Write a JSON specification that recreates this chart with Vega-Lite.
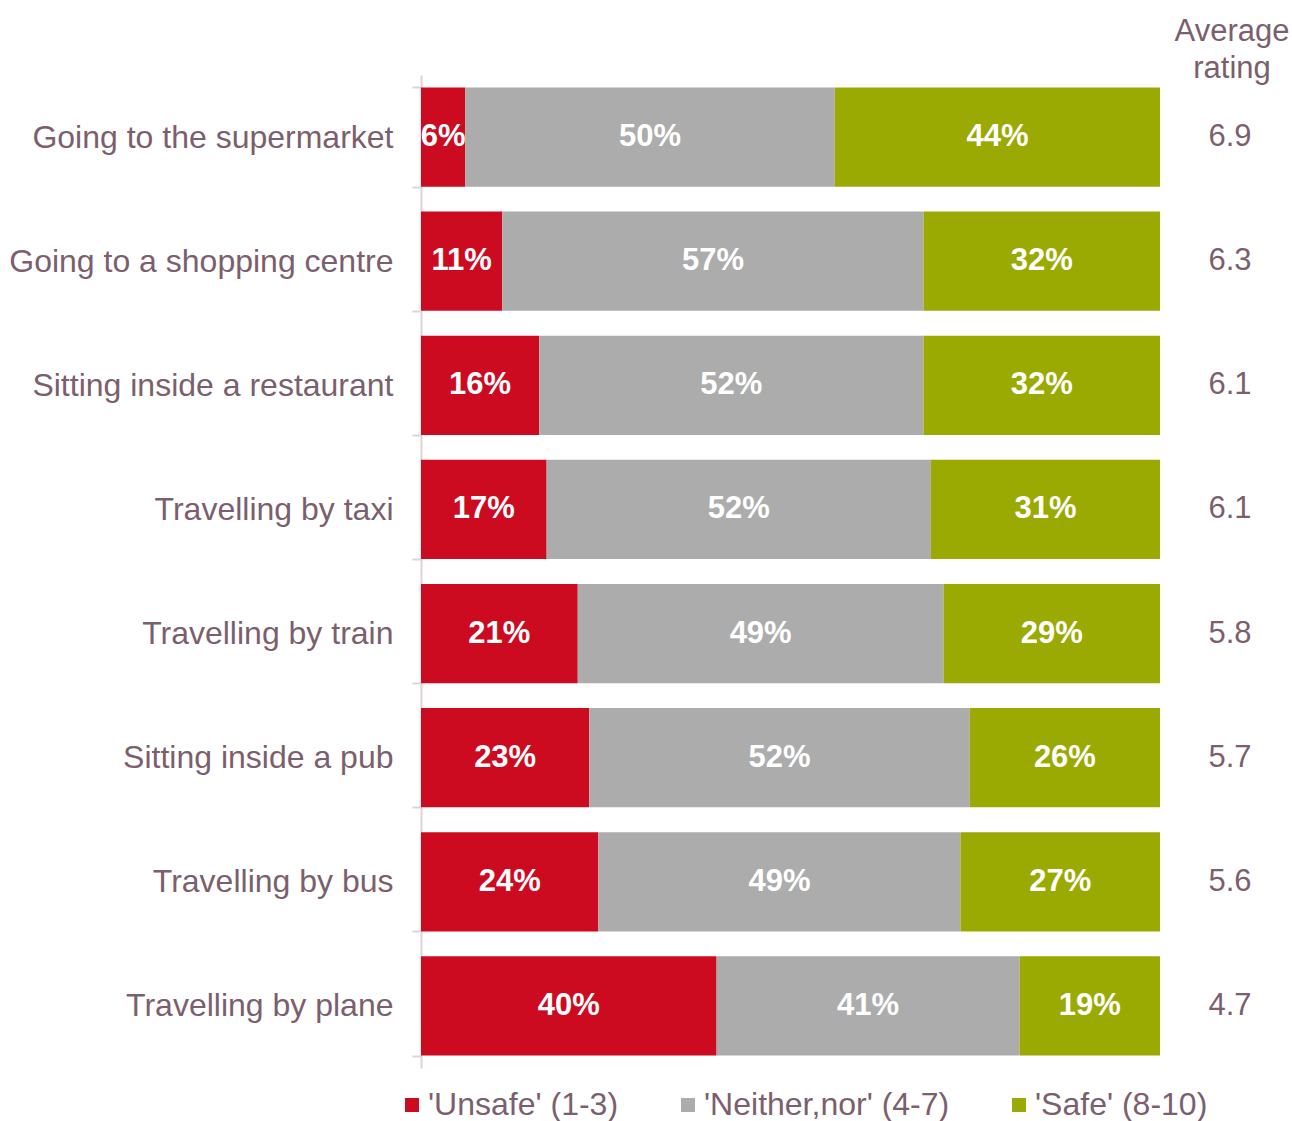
{
  "$schema": "https://vega.github.io/schema/vega-lite/v6.json",
  "width": 871,
  "height": 993,
  "autosize": "none",
  "padding": {"left": 421, "top": 75, "right": 0, "bottom": 53},
  "background": "white",
  "config": {"view": {"stroke": null}, "font": "Liberation Sans"},
  "title": {"text": ["Average", "rating"], "anchor": "end", "align": "center", "dx": -60, "fontSize": 31, "fontWeight": "normal", "color": "#7b5f6e", "lineHeight": 37, "offset": -26, "font": "Liberation Sans"},
  "datasets": {
    "shares": [
      {"activity": "Going to the supermarket", "category": "'Unsafe' (1-3)", "order": 1, "value": 6},
      {"activity": "Going to the supermarket", "category": "'Neither,nor' (4-7)", "order": 2, "value": 50},
      {"activity": "Going to the supermarket", "category": "'Safe' (8-10)", "order": 3, "value": 44},
      {"activity": "Going to a shopping centre", "category": "'Unsafe' (1-3)", "order": 1, "value": 11},
      {"activity": "Going to a shopping centre", "category": "'Neither,nor' (4-7)", "order": 2, "value": 57},
      {"activity": "Going to a shopping centre", "category": "'Safe' (8-10)", "order": 3, "value": 32},
      {"activity": "Sitting inside a restaurant", "category": "'Unsafe' (1-3)", "order": 1, "value": 16},
      {"activity": "Sitting inside a restaurant", "category": "'Neither,nor' (4-7)", "order": 2, "value": 52},
      {"activity": "Sitting inside a restaurant", "category": "'Safe' (8-10)", "order": 3, "value": 32},
      {"activity": "Travelling by taxi", "category": "'Unsafe' (1-3)", "order": 1, "value": 17},
      {"activity": "Travelling by taxi", "category": "'Neither,nor' (4-7)", "order": 2, "value": 52},
      {"activity": "Travelling by taxi", "category": "'Safe' (8-10)", "order": 3, "value": 31},
      {"activity": "Travelling by train", "category": "'Unsafe' (1-3)", "order": 1, "value": 21},
      {"activity": "Travelling by train", "category": "'Neither,nor' (4-7)", "order": 2, "value": 49},
      {"activity": "Travelling by train", "category": "'Safe' (8-10)", "order": 3, "value": 29},
      {"activity": "Sitting inside a pub", "category": "'Unsafe' (1-3)", "order": 1, "value": 23},
      {"activity": "Sitting inside a pub", "category": "'Neither,nor' (4-7)", "order": 2, "value": 52},
      {"activity": "Sitting inside a pub", "category": "'Safe' (8-10)", "order": 3, "value": 26},
      {"activity": "Travelling by bus", "category": "'Unsafe' (1-3)", "order": 1, "value": 24},
      {"activity": "Travelling by bus", "category": "'Neither,nor' (4-7)", "order": 2, "value": 49},
      {"activity": "Travelling by bus", "category": "'Safe' (8-10)", "order": 3, "value": 27},
      {"activity": "Travelling by plane", "category": "'Unsafe' (1-3)", "order": 1, "value": 40},
      {"activity": "Travelling by plane", "category": "'Neither,nor' (4-7)", "order": 2, "value": 41},
      {"activity": "Travelling by plane", "category": "'Safe' (8-10)", "order": 3, "value": 19}
    ],
    "ratings": [
      {"activity": "Going to the supermarket", "rating": "6.9"},
      {"activity": "Going to a shopping centre", "rating": "6.3"},
      {"activity": "Sitting inside a restaurant", "rating": "6.1"},
      {"activity": "Travelling by taxi", "rating": "6.1"},
      {"activity": "Travelling by train", "rating": "5.8"},
      {"activity": "Sitting inside a pub", "rating": "5.7"},
      {"activity": "Travelling by bus", "rating": "5.6"},
      {"activity": "Travelling by plane", "rating": "4.7"}
    ]
  },
  "encoding": {
    "y": {
      "field": "activity", "type": "nominal", "title": null,
      "sort": ["Going to the supermarket", "Going to a shopping centre", "Sitting inside a restaurant", "Travelling by taxi", "Travelling by train", "Sitting inside a pub", "Travelling by bus", "Travelling by plane"],
      "scale": {"paddingInner": 0.2, "paddingOuter": 0.1},
      "axis": {"domainColor": "#dcd4d7", "domainWidth": 2, "tickColor": "#dcd4d7", "tickWidth": 2, "tickSize": 9, "tickBand": "extent", "labelFontSize": 32, "labelColor": "#7b5f6e", "labelPadding": 19, "labelFont": "Liberation Sans", "labelLimit": 420}
    }
  },
  "layer": [
    {
      "data": {"name": "shares"},
      "transform": [
        {"stack": "value", "groupby": ["activity"], "sort": [{"field": "order"}], "as": ["x0", "x1"], "offset": "normalize"}
      ],
      "mark": {"type": "bar"},
      "encoding": {
        "x": {"field": "x0", "type": "quantitative", "axis": null, "scale": {"domain": [0, 1.1786], "nice": false, "zero": true}},
        "x2": {"field": "x1"},
        "color": {
          "field": "category", "type": "nominal",
          "scale": {"domain": ["'Unsafe' (1-3)", "'Neither,nor' (4-7)", "'Safe' (8-10)"], "range": ["#cc0a20", "#acacac", "#9aaa03"]},
          "legend": {"orient": "none", "legendX": -25, "legendY": 1014, "direction": "horizontal", "title": null, "symbolType": "square", "symbolSize": 196, "labelFontSize": 32, "labelColor": "#7b5f6e", "labelFont": "Liberation Sans", "columnPadding": 53, "labelOffset": 0, "symbolStrokeWidth": 0, "labelLimit": 400}
        }
      }
    },
    {
      "data": {"name": "shares"},
      "transform": [
        {"stack": "value", "groupby": ["activity"], "sort": [{"field": "order"}], "as": ["x0", "x1"], "offset": "normalize"},
        {"calculate": "(datum.x0 + datum.x1) / 2", "as": "xm"},
        {"calculate": "datum.value + '%'", "as": "label"}
      ],
      "mark": {"type": "text", "fontSize": 31, "fontWeight": "bold", "color": "white", "font": "Liberation Sans"},
      "encoding": {
        "x": {"field": "xm", "type": "quantitative"},
        "text": {"field": "label"}
      }
    },
    {
      "data": {"name": "ratings"},
      "mark": {"type": "text", "fontSize": 31, "color": "#7b5f6e", "font": "Liberation Sans"},
      "encoding": {
        "x": {"datum": 1.0947, "type": "quantitative"},
        "text": {"field": "rating"}
      }
    }
  ]
}
